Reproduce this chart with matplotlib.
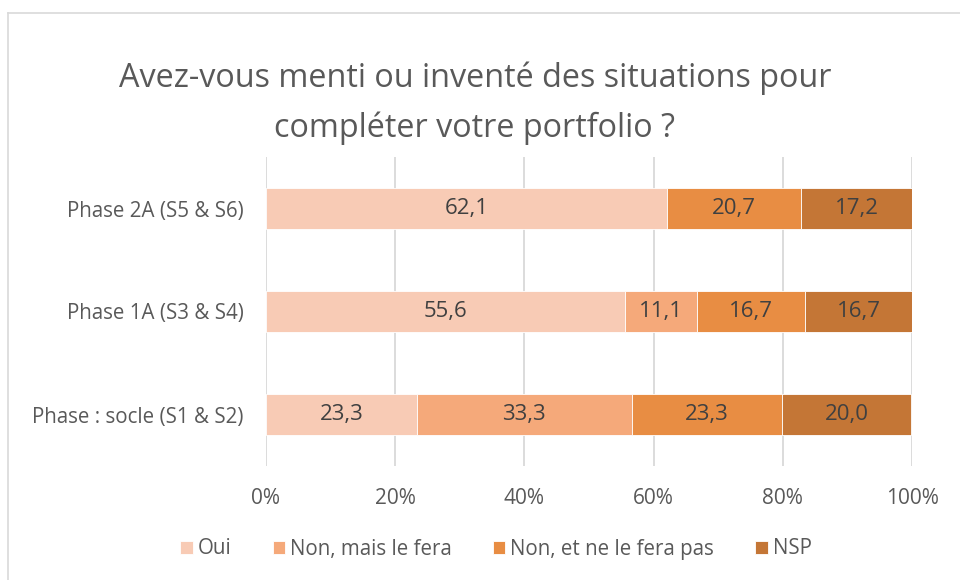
import numpy as np
import matplotlib
matplotlib.use("Agg")
from matplotlib import pyplot as plt
from matplotlib.lines import Line2D

# Data ##########################################################################
categories = ["Phase : socle (S1 & S2)", "Phase 1A (S3 & S4)", "Phase 2A (S5 & S6)"]
series = ["Oui", "Non, mais le fera", "Non, et ne le fera pas", "NSP"]
oui = [23.3, 55.6, 62.1]
non_fera = [33.3, 11.1, 0.0]
non_pas = [23.3, 16.7, 20.7]
nsp = [20.0, 16.7, 17.2]
colors = ["#F8CBB5", "#F5A97A", "#E88D43", "#C47636"]
title = "Avez-vous menti ou inventé des situations pour\ncompléter votre portfolio ?"
#################################################################################

plt.rcParams['font.family'] = ['Open Sans', 'DejaVu Sans']
txt = "#595959"

fig = plt.figure(figsize=(9.6, 5.8), dpi=100)
ax = fig.add_axes([266/960, 1 - 466/580, 646/960, 309/580])

y = np.arange(len(categories))
left = np.zeros(len(categories))
for vals, name, c in zip([oui, non_fera, non_pas, nsp], series, colors):
    vals = np.array(vals)
    ax.barh(y, vals, left=left, height=0.4, color=c, label=name,
            edgecolor="white", linewidth=0.6, zorder=3)
    for yi, l, v in zip(y, left, vals):
        if v > 0:
            ax.text(l + v / 2, yi, f"{v:.1f}".replace(".", ","), ha="center",
                    va="center", fontsize=16, color="#404040", zorder=4)
    left += vals

ax.set_xlim(0, 100)
ax.set_ylim(-0.5, 2.5)
ax.set_yticks(y)
ax.set_yticklabels(categories, fontsize=14.8, color=txt)
ax.set_xticks(np.arange(0, 101, 20))
ax.set_xticklabels([f"{t}%" for t in range(0, 101, 20)], fontsize=15, color=txt)
ax.tick_params(length=0)
ax.tick_params(axis="x", pad=16)
ax.tick_params(axis="y", pad=16)
ax.grid(axis="x", color="#D9D9D9", linewidth=1.3, zorder=0)
for s in ax.spines.values():
    s.set_visible(False)

fig.text(475/960, 1 - 103/580, title, ha="center", va="center",
         fontsize=23.3, color=txt, linespacing=1.65)

handles, labels = ax.get_legend_handles_labels()
fig.legend(handles, labels, loc="center", bbox_to_anchor=(496/960, 1 - 549/580),
           ncol=4, frameon=False, fontsize=14.8, labelcolor=txt,
           handlelength=0.6, handleheight=0.6, handletextpad=0.25, columnspacing=2.0)

# chart frame
fig.add_artist(Line2D([8/960, 8/960], [0, 1 - 13/580], color="#D9D9D9", lw=1.2))
fig.add_artist(Line2D([8/960, 1], [1 - 13/580, 1 - 13/580], color="#D9D9D9", lw=1.2))

fig.savefig("out.png", dpi=100, facecolor="white")
